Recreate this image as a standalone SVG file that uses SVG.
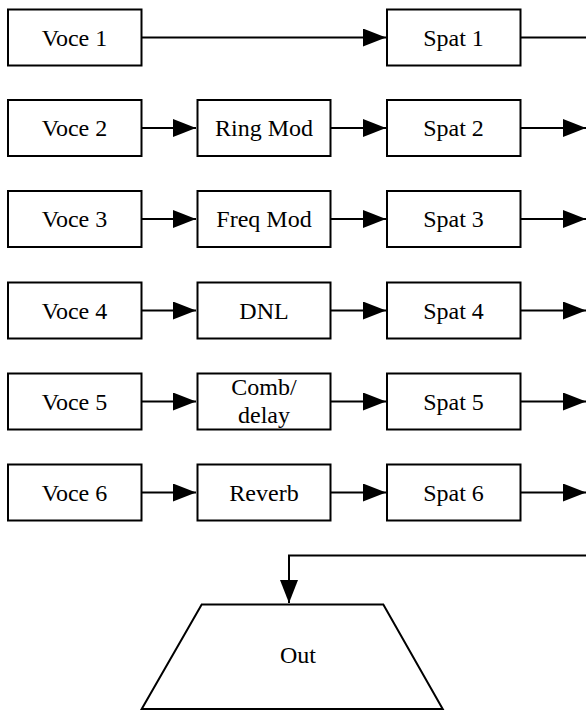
<svg xmlns="http://www.w3.org/2000/svg" width="586" height="711" viewBox="0 0 586 711">
<style>
.b{fill:#fff;stroke:#000;stroke-width:2}
text{font-family:"Liberation Serif","Times New Roman",serif;font-size:24px;fill:#000;text-anchor:middle}
.c{fill:none;stroke:#000;stroke-width:2}
</style>
<defs>
<marker id="ah" markerUnits="userSpaceOnUse" markerWidth="24" markerHeight="20" refX="23" refY="9" orient="auto">
<path d="M0,0 L23,9 L0,18 z" fill="#000"/>
</marker>
</defs>
<rect width="586" height="711" fill="#fff"/>
<g id="connectors">
<path class="c" d="M141.5,37.5 H386" marker-end="url(#ah)"/>
<path class="c" d="M520.5,37.5 H586"/>
<path class="c" d="M141.5,128 H196" marker-end="url(#ah)"/>
<path class="c" d="M330.5,128 H386" marker-end="url(#ah)"/>
<path class="c" d="M520.5,128 H586" marker-end="url(#ah)"/>
<path class="c" d="M141.5,219 H196" marker-end="url(#ah)"/>
<path class="c" d="M330.5,219 H386" marker-end="url(#ah)"/>
<path class="c" d="M520.5,219 H586" marker-end="url(#ah)"/>
<path class="c" d="M141.5,310.5 H196" marker-end="url(#ah)"/>
<path class="c" d="M330.5,310.5 H386" marker-end="url(#ah)"/>
<path class="c" d="M520.5,310.5 H586" marker-end="url(#ah)"/>
<path class="c" d="M141.5,401.5 H196" marker-end="url(#ah)"/>
<path class="c" d="M330.5,401.5 H386" marker-end="url(#ah)"/>
<path class="c" d="M520.5,401.5 H586" marker-end="url(#ah)"/>
<path class="c" d="M141.5,492.5 H196" marker-end="url(#ah)"/>
<path class="c" d="M330.5,492.5 H386" marker-end="url(#ah)"/>
<path class="c" d="M520.5,492.5 H586" marker-end="url(#ah)"/>
<path class="c" d="M586,555.5 H289 V603" marker-end="url(#ah)"/>
</g>
<g id="voce1"><rect class="b" x="8" y="9.5" width="133.5" height="56"/><text x="74.5" y="45.5">Voce 1</text></g>
<g id="spat1"><rect class="b" x="387" y="9.5" width="133.5" height="56"/><text x="453.5" y="45.5">Spat 1</text></g>
<g id="voce2"><rect class="b" x="8" y="100" width="133.5" height="56"/><text x="74.5" y="136">Voce 2</text></g>
<g id="ringmod"><rect class="b" x="197.5" y="100" width="133" height="56"/><text x="264" y="136">Ring Mod</text></g>
<g id="spat2"><rect class="b" x="387" y="100" width="133.5" height="56"/><text x="453.5" y="136">Spat 2</text></g>
<g id="voce3"><rect class="b" x="8" y="191" width="133.5" height="56"/><text x="74.5" y="227">Voce 3</text></g>
<g id="freqmod"><rect class="b" x="197.5" y="191" width="133" height="56"/><text x="264" y="227">Freq Mod</text></g>
<g id="spat3"><rect class="b" x="387" y="191" width="133.5" height="56"/><text x="453.5" y="227">Spat 3</text></g>
<g id="voce4"><rect class="b" x="8" y="282.5" width="133.5" height="56"/><text x="74.5" y="318.5">Voce 4</text></g>
<g id="dnl"><rect class="b" x="197.5" y="282.5" width="133" height="56"/><text x="264" y="318.5">DNL</text></g>
<g id="spat4"><rect class="b" x="387" y="282.5" width="133.5" height="56"/><text x="453.5" y="318.5">Spat 4</text></g>
<g id="voce5"><rect class="b" x="8" y="373.5" width="133.5" height="56"/><text x="74.5" y="409.5">Voce 5</text></g>
<g id="combdelay"><rect class="b" x="197.5" y="373.5" width="133" height="56"/><text x="264" y="395">Comb/</text><text x="264" y="423">delay</text></g>
<g id="spat5"><rect class="b" x="387" y="373.5" width="133.5" height="56"/><text x="453.5" y="409.5">Spat 5</text></g>
<g id="voce6"><rect class="b" x="8" y="464.5" width="133.5" height="56"/><text x="74.5" y="500.5">Voce 6</text></g>
<g id="reverb"><rect class="b" x="197.5" y="464.5" width="133" height="56"/><text x="264" y="500.5">Reverb</text></g>
<g id="spat6"><rect class="b" x="387" y="464.5" width="133.5" height="56"/><text x="453.5" y="500.5">Spat 6</text></g>
<g id="out"><polygon class="b" points="201.7,604.5 383.3,604.5 442.7,709 141.7,709"/><text x="298" y="663">Out</text></g>
</svg>
